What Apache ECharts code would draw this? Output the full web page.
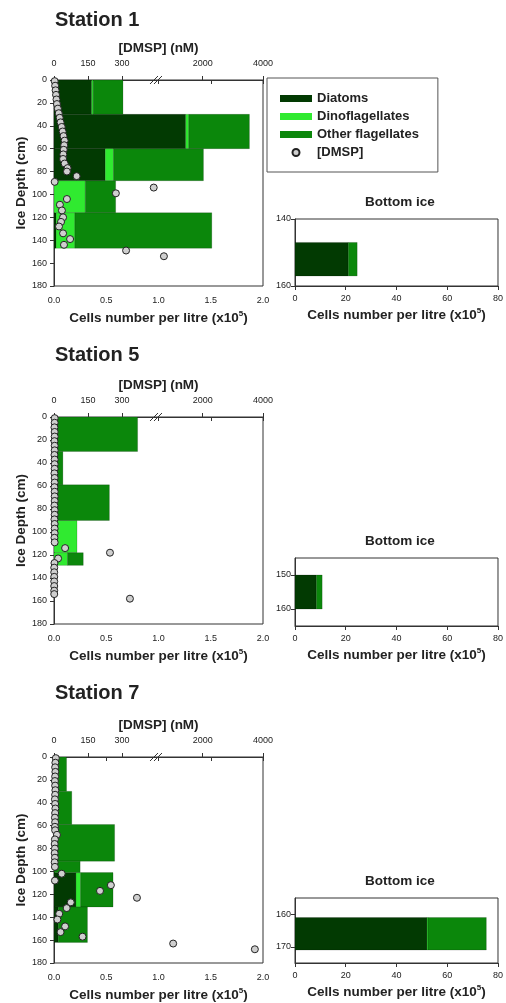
<!DOCTYPE html>
<html><head><meta charset="utf-8">
<script src="https://cdn.jsdelivr.net/npm/echarts@6/dist/echarts.min.js"></script>
<style>html,body{margin:0;padding:0;background:#fff}#c{width:506px;height:1003px}</style>
</head><body><div id="c"></div>
<script>
// ---------- DATA ----------
const taxa = ['Diatoms', 'Dinoflagellates', 'Other flagellates'];
const dmspName = '[DMSP]';
const stationNames = ['Station 1', 'Station 5', 'Station 7'];
const cellTicks = [0, 0.5, 1, 1.5, 2];
const dmspTicks = [0, 150, 300, 2000, 4000];
const depthTicks = [0, 20, 40, 60, 80, 100, 120, 140, 160, 180];
const bottomIceXTicks = [0, 20, 40, 60, 80];

// Station 1 – ice core sections (cm) and cells per litre (x10^5)
const s1DepthTop    = [0, 30, 60, 88, 116];
const s1DepthBottom = [30, 60, 88, 116, 147];
const s1Diatoms     = [0.36, 1.26, 0.49, 0.00, 0.02];
const s1Dino        = [0.015, 0.03, 0.08, 0.30, 0.18];
const s1Other       = [0.285, 0.58, 0.86, 0.29, 1.31];
const s1DmspDepth = [1, 5, 9, 13, 17, 21, 25, 29, 33, 37, 41, 45, 49, 53, 57, 61, 65, 69, 73, 77, 80, 84, 89, 94, 99, 104, 109, 114, 120, 124, 128, 134, 139, 144, 149, 154];
const s1Dmsp      = [3, 5, 7, 9, 11, 13, 17, 21, 25, 29, 34, 38, 42, 47, 45, 43, 41, 40, 47, 60, 57, 100, 3, 440, 273, 57, 26, 35, 40, 31, 22, 40, 71, 44, 318, 713];
const s1BottomTop = [147], s1BottomBottom = [157];
const s1BottomDiatoms = [21.0], s1BottomDino = [0], s1BottomOther = [3.5];
const s1BottomYTicks = [140, 160];

// Station 5
const s5DepthTop    = [0, 30, 59, 90, 118];
const s5DepthBottom = [30, 59, 90, 118, 129];
const s5Diatoms     = [0, 0, 0, 0, 0];
const s5Dino        = [0, 0, 0, 0.22, 0.13];
const s5Other       = [0.80, 0.085, 0.53, 0, 0.15];
const s5DmspDepth = [1, 5, 9, 13, 17, 21, 25, 29, 33, 37, 41, 45, 49, 53, 57, 61, 65, 69, 73, 77, 81, 85, 89, 93, 97, 101, 105, 109, 114, 118, 123, 127, 131, 135, 139, 143, 147, 151, 154, 158];
const s5Dmsp      = [3, 3, 2, 3, 3, 2, 3, 3, 2, 3, 3, 3, 2, 3, 3, 2, 3, 3, 3, 2, 3, 3, 2, 3, 3, 3, 2, 3, 49, 247, 18, 2, 1, 1, 1, 1, 1, 1, 1, 335];
const s5BottomTop = [150], s5BottomBottom = [160];
const s5BottomDiatoms = [8.4], s5BottomDino = [0], s5BottomOther = [2.3];
const s5BottomYTicks = [150, 160];

// Station 7
const s7DepthTop    = [0, 30, 59, 91, 101, 131];
const s7DepthBottom = [30, 59, 91, 101, 131, 162];
const s7Diatoms     = [0, 0, 0, 0, 0.21, 0.04];
const s7Dino        = [0, 0, 0, 0, 0.045, 0];
const s7Other       = [0.12, 0.17, 0.58, 0.25, 0.31, 0.28];
const s7DmspDepth = [1, 5, 9, 13, 17, 21, 25, 29, 33, 37, 41, 45, 49, 53, 57, 61, 64, 68, 72, 76, 80, 84, 88, 92, 96, 102, 108, 112, 117, 123, 127, 132, 137, 142, 148, 153, 157, 163, 168];
const s7Dmsp      = [8, 6, 5, 6, 5, 4, 5, 6, 5, 4, 5, 6, 5, 4, 5, 4, 5, 13, 4, 3, 4, 3, 4, 3, 4, 34, 4, 251, 203, 366, 74, 56, 23, 15, 49, 29, 126, 1020, 3730];
const s7BottomTop = [161], s7BottomBottom = [171];
const s7BottomDiatoms = [52.0], s7BottomDino = [0.4], s7BottomOther = [23.0];
const s7BottomYTicks = [160, 170];

// ---------- STYLE / LAYOUT ----------
const F = "'Liberation Sans', Arial, sans-serif";
const taxaColors = ['#023a02', '#30ea30', '#0b870b'];
const axisColor = '#333';
const labelColor = '#222';
const NAME_SIZE = 13.5;
const BREAK_AT = 450, POST_SCALE = 0.133;   // broken DMSP axis
function dmspPos(v) { return v <= BREAK_AT ? v : BREAK_AT + (v - BREAK_AT) * POST_SCALE; }

const stations = [
  {main: [s1DepthTop, s1DepthBottom, [s1Diatoms, s1Dino, s1Other]], dmsp: [s1DmspDepth, s1Dmsp],
   bottom: [s1BottomTop, s1BottomBottom, [s1BottomDiatoms, s1BottomDino, s1BottomOther]], bTicks: s1BottomYTicks, bRange: [140, 160],
   grid: {top: 80, height: 206}, bGrid: {top: 219, height: 67}, titleY: 20, bTitleY: 202},
  {main: [s5DepthTop, s5DepthBottom, [s5Diatoms, s5Dino, s5Other]], dmsp: [s5DmspDepth, s5Dmsp],
   bottom: [s5BottomTop, s5BottomBottom, [s5BottomDiatoms, s5BottomDino, s5BottomOther]], bTicks: s5BottomYTicks, bRange: [145, 165],
   grid: {top: 417, height: 207}, bGrid: {top: 558, height: 68}, titleY: 355, bTitleY: 541},
  {main: [s7DepthTop, s7DepthBottom, [s7Diatoms, s7Dino, s7Other]], dmsp: [s7DmspDepth, s7Dmsp],
   bottom: [s7BottomTop, s7BottomBottom, [s7BottomDiatoms, s7BottomDino, s7BottomOther]], bTicks: s7BottomYTicks, bRange: [155, 175],
   grid: {top: 757, height: 207}, bGrid: {top: 898, height: 65}, titleY: 693, bTitleY: 881}
];

function stackRows(top, bottom, layers) {
  const out = layers.map(() => []);
  for (let i = 0; i < top.length; i++) {
    let acc = 0;
    layers.forEach((arr, k) => { out[k].push([acc, acc + arr[i], top[i], bottom[i]]); acc += arr[i]; });
  }
  return out;
}
function renderBar(params, api) {
  const a = api.coord([api.value(0), api.value(2)]);
  const b = api.coord([api.value(1), api.value(3)]);
  const w = b[0] - a[0], h = b[1] - a[1];
  if (!(w > 0)) return null;
  return {type: 'rect', shape: {x: a[0], y: a[1], width: w, height: h},
    style: {fill: api.visual('color'), stroke: 'rgba(0,0,0,0.35)', lineWidth: 0.5}};
}

const tickLabel = {fontFamily: F, fontSize: 9, color: labelColor};
const axisLine = {show: true, lineStyle: {color: axisColor, width: 1}};
const cellsName = '{b|Cells number per litre (x10}{s|5}{b|)}';
const cellsNameStyle = {rich: {
  b: {fontFamily: F, fontSize: NAME_SIZE, fontWeight: 'bold', color: labelColor, lineHeight: 16},
  s: {fontFamily: F, fontSize: 8, fontWeight: 'bold', color: labelColor, lineHeight: 9, verticalAlign: 'top'}
}};
const nameStyle = {fontFamily: F, fontSize: NAME_SIZE, fontWeight: 'bold', color: labelColor};

const grids = [], xAxes = [], yAxes = [], series = [], graphics = [];
stations.forEach((st, s) => {
  grids.push({left: 54, width: 209, top: st.grid.top, height: st.grid.height, show: true, borderColor: axisColor, borderWidth: 1, backgroundColor: 'transparent'});
  grids.push({left: 295, width: 209, top: st.bGrid.top, height: st.bGrid.height, show: true, borderColor: axisColor, borderWidth: 1, backgroundColor: 'transparent'});
  // main bottom axis (cells)
  xAxes.push({type: 'value', gridIndex: 2 * s, position: 'bottom', min: cellTicks[0], max: cellTicks[cellTicks.length - 1], interval: 0.5,
    axisLine, axisTick: {show: true, length: 4, lineStyle: {color: axisColor}}, splitLine: {show: false},
    axisLabel: {...tickLabel, margin: 10, formatter: v => v.toFixed(1), showMaxLabel: true, showMinLabel: true},
    name: cellsName, nameLocation: 'middle', nameGap: 24, nameTextStyle: cellsNameStyle});
  // main top axis (DMSP, broken)
  const tickPos = dmspTicks.map(dmspPos);
  xAxes.push({type: 'value', gridIndex: 2 * s, position: 'top', min: 0, max: dmspPos(4000),
    axisLine, splitLine: {show: false},
    axisTick: {show: true, length: 4, customValues: tickPos, lineStyle: {color: axisColor}},
    axisLabel: {...tickLabel, margin: 12, customValues: tickPos, formatter: v => {
      const i = tickPos.findIndex(p => Math.abs(p - v) < 1e-6); return i >= 0 ? String(dmspTicks[i]) : ''; }},
    name: '[DMSP] (nM)', nameLocation: 'middle', nameGap: 25, nameTextStyle: nameStyle});
  // bottom ice x
  xAxes.push({type: 'value', gridIndex: 2 * s + 1, position: 'bottom', min: bottomIceXTicks[0], max: bottomIceXTicks[bottomIceXTicks.length - 1], interval: 20,
    axisLine, axisTick: {show: true, length: 4, lineStyle: {color: axisColor}}, splitLine: {show: false},
    axisLabel: {...tickLabel, margin: 8, showMaxLabel: true},
    name: cellsName, nameLocation: 'middle', nameGap: 21, nameTextStyle: cellsNameStyle});
  // main y
  yAxes.push({type: 'value', gridIndex: 2 * s, inverse: true, min: depthTicks[0], max: depthTicks[depthTicks.length - 1], interval: 20,
    axisLine, axisTick: {show: true, length: 4, lineStyle: {color: axisColor}}, splitLine: {show: false},
    axisLabel: {...tickLabel, margin: 7},
    name: 'Ice Depth (cm)', nameLocation: 'middle', nameRotate: 90, nameGap: 26, nameTextStyle: nameStyle});
  // bottom ice y
  yAxes.push({type: 'value', gridIndex: 2 * s + 1, inverse: true, min: st.bRange[0], max: st.bRange[1],
    axisLine, splitLine: {show: false},
    axisTick: {show: true, length: 4, customValues: st.bTicks, lineStyle: {color: axisColor}},
    axisLabel: {...tickLabel, margin: 4, customValues: st.bTicks}});

  const mainRows = stackRows(st.main[0], st.main[1], st.main[2]);
  mainRows.forEach((rows, k) => series.push({type: 'custom', name: taxa[k], xAxisIndex: 3 * s, yAxisIndex: 2 * s,
    renderItem: renderBar, data: rows, encode: {x: [0, 1], y: [2, 3]}, itemStyle: {color: taxaColors[k]}, clip: true}));
  const botRows = stackRows(st.bottom[0], st.bottom[1], st.bottom[2]);
  botRows.forEach((rows, k) => series.push({type: 'custom', name: taxa[k], xAxisIndex: 3 * s + 2, yAxisIndex: 2 * s + 1,
    renderItem: renderBar, data: rows, encode: {x: [0, 1], y: [2, 3]}, itemStyle: {color: taxaColors[k]}, clip: true}));
  series.push({type: 'scatter', name: dmspName, xAxisIndex: 3 * s + 1, yAxisIndex: 2 * s,
    data: st.dmsp[0].map((d, i) => [dmspPos(st.dmsp[1][i]), d]),
    symbol: 'circle', symbolSize: 7, z: 5,
    itemStyle: {color: '#cfcfcf', borderColor: '#222', borderWidth: 1, opacity: 1}});

  graphics.push({type: 'text', id: 'title' + s, x: 55, y: st.titleY, z: 10,
    style: {text: stationNames[s], font: "bold 20px " + F, fill: '#222', textVerticalAlign: 'middle'}});
  graphics.push({type: 'text', id: 'btitle' + s, x: 400, y: st.bTitleY, z: 10,
    style: {text: 'Bottom ice', font: "bold " + NAME_SIZE + "px " + F, fill: '#222', textAlign: 'center', textVerticalAlign: 'middle'}});
});

const chart = echarts.init(document.getElementById('c'), null, {renderer: 'canvas'});
chart.setOption({
  backgroundColor: '#fff',
  animation: false,
  grid: grids, xAxis: xAxes, yAxis: yAxes, series,
  legend: {
    left: 267, top: 78, orient: 'vertical', selectedMode: false,
    borderColor: '#555', borderWidth: 1, padding: [14, 19, 13, 13],
    itemWidth: 32, itemHeight: 7, itemGap: 5,
    textStyle: {fontFamily: F, fontSize: 13, fontWeight: 'bold', color: labelColor},
    data: [
      {name: taxa[0], icon: 'rect'}, {name: taxa[1], icon: 'rect'}, {name: taxa[2], icon: 'rect'},
      {name: dmspName, icon: 'circle'}
    ]
  },
  graphic: graphics
});

// break marks on the DMSP axes
const marks = [];
stations.forEach((st, s) => {
  const x = chart.convertToPixel({xAxisIndex: 3 * s + 1}, BREAK_AT);
  const y = chart.convertToPixel({yAxisIndex: 2 * s}, 0);
  [-2, 2].forEach((o, j) => marks.push({type: 'line', id: 'brk' + s + '_' + j, z: 10,
    shape: {x1: x + o - 4, y1: y + 4, x2: x + o + 4, y2: y - 4}, style: {stroke: '#333', lineWidth: 1}}));
});
chart.setOption({graphic: graphics.concat(marks)});
</script></body></html>
